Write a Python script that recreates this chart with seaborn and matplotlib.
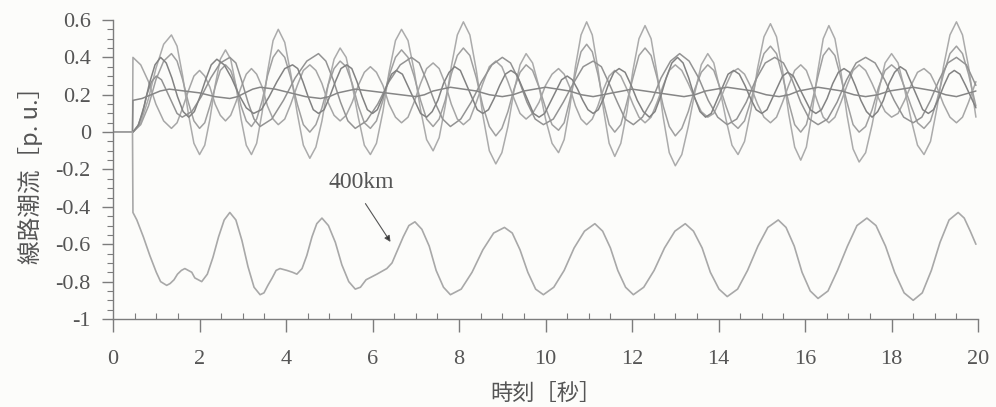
import matplotlib
matplotlib.use("Agg")
import matplotlib.pyplot as plt
import seaborn as sns
from matplotlib.ticker import MultipleLocator

# ---------------- data ----------------
# 400 km line flow
t_400km = [0.0, 0.45, 0.46, 0.55, 0.7, 0.85, 1.0, 1.1, 1.24,
           1.32, 1.41, 1.49, 1.58, 1.66,
           1.74, 1.82, 1.89, 1.97, 2.05,
           2.18, 2.31, 2.44, 2.57, 2.7,
           2.84, 2.98, 3.12, 3.26, 3.4,
           3.49, 3.58, 3.68, 3.77, 3.86,
           4.02, 4.15, 4.25,
           4.37, 4.48, 4.6, 4.71, 4.83,
           4.98, 5.14, 5.29, 5.45, 5.6,
           5.72, 5.85, 6.1, 6.33,
           6.45, 6.58, 6.71, 6.84, 6.98,
           7.14, 7.31, 7.47, 7.64, 7.8,
           8.05, 8.3, 8.55, 8.8, 9.05,
           9.23, 9.41, 9.59, 9.77, 9.95,
           10.19, 10.43, 10.66, 10.9, 11.14,
           11.32, 11.5, 11.67, 11.85, 12.03,
           12.27, 12.51, 12.75, 12.99, 13.23,
           13.42, 13.62, 13.81, 14.01, 14.2,
           14.44, 14.67, 14.91, 15.14, 15.38,
           15.56, 15.75, 15.93, 16.12, 16.3,
           16.53, 16.75, 16.98, 17.2, 17.43,
           17.64, 17.86, 18.07, 18.29, 18.5,
           18.71, 18.92, 19.12, 19.33, 19.54,
           19.68, 19.82, 19.95]
flow_400km = [0.0, 0.0, -0.43, -0.47, -0.56, -0.66, -0.75, -0.80, -0.82,
              -0.81, -0.79, -0.76, -0.74, -0.73,
              -0.74, -0.75, -0.78, -0.79, -0.80,
              -0.76, -0.67, -0.56, -0.47, -0.43,
              -0.47, -0.58, -0.72, -0.83, -0.87,
              -0.86, -0.82, -0.78, -0.74, -0.73,
              -0.74, -0.75, -0.76,
              -0.73, -0.66, -0.56, -0.49, -0.46,
              -0.50, -0.59, -0.71, -0.80, -0.84,
              -0.83, -0.79, -0.76, -0.73,
              -0.70, -0.63, -0.56, -0.50, -0.48,
              -0.52, -0.61, -0.74, -0.83, -0.87,
              -0.84, -0.75, -0.63, -0.54, -0.51,
              -0.54, -0.63, -0.75, -0.84, -0.87,
              -0.83, -0.74, -0.62, -0.53, -0.49,
              -0.53, -0.62, -0.74, -0.83, -0.87,
              -0.83, -0.74, -0.62, -0.53, -0.49,
              -0.53, -0.62, -0.75, -0.84, -0.88,
              -0.84, -0.74, -0.61, -0.51, -0.47,
              -0.51, -0.61, -0.75, -0.85, -0.89,
              -0.85, -0.74, -0.61, -0.50, -0.46,
              -0.50, -0.61, -0.75, -0.86, -0.90,
              -0.86, -0.74, -0.59, -0.47, -0.43,
              -0.46, -0.53, -0.60]

# fast-mode line flows (three lines sharing one time base)
t_fast = [0.0, 0.45, 0.46,
          0.64, 0.82, 0.99, 1.17, 1.35,
          1.48, 1.61, 1.74, 1.87, 2.0,
          2.12, 2.24, 2.36, 2.48, 2.6,
          2.72, 2.84, 2.96, 3.08, 3.2,
          3.32, 3.45, 3.57, 3.70, 3.82,
          3.97, 4.11, 4.26, 4.40, 4.55,
          4.69, 4.83, 4.97, 5.11, 5.25,
          5.39, 5.53, 5.67, 5.81, 5.95,
          6.09, 6.24, 6.38, 6.53, 6.67,
          6.82, 6.96, 7.11, 7.25, 7.4,
          7.54, 7.68, 7.82, 7.96, 8.1,
          8.25, 8.4, 8.55, 8.7, 8.85,
          8.99, 9.13, 9.27, 9.41, 9.55,
          9.7, 9.85, 10.0, 10.15, 10.3,
          10.43, 10.56, 10.69, 10.82, 10.95,
          11.08, 11.21, 11.34, 11.47, 11.6,
          11.74, 11.88, 12.02, 12.16, 12.3,
          12.44, 12.58, 12.72, 12.86, 13.0,
          13.15, 13.3, 13.45, 13.6, 13.75,
          13.89, 14.03, 14.17, 14.31, 14.45,
          14.6, 14.75, 14.9, 15.05, 15.2,
          15.34, 15.48, 15.62, 15.76, 15.9,
          16.03, 16.16, 16.29, 16.42, 16.55,
          16.69, 16.83, 16.97, 17.11, 17.25,
          17.4, 17.55, 17.7, 17.85, 18.0,
          18.15, 18.3, 18.45, 18.6, 18.75,
          18.9, 19.05, 19.2, 19.35, 19.5,
          19.64, 19.78, 19.95]
flow_a = [0.0, 0.0, 0.0,
          0.05, 0.18, 0.34, 0.47, 0.52,
          0.46, 0.30, 0.10, -0.06, -0.12,
          -0.07, 0.07, 0.25, 0.39, 0.44,
          0.39, 0.25, 0.07, -0.07, -0.12,
          -0.06, 0.11, 0.32, 0.49, 0.55,
          0.48, 0.31, 0.10, -0.07, -0.14,
          -0.08, 0.06, 0.25, 0.39, 0.45,
          0.40, 0.25, 0.08, -0.07, -0.12,
          -0.06, 0.11, 0.32, 0.49, 0.55,
          0.49, 0.33, 0.12, -0.04, -0.10,
          -0.03, 0.14, 0.35, 0.52, 0.59,
          0.52, 0.33, 0.09, -0.10, -0.17,
          -0.11, 0.03, 0.22, 0.36, 0.42,
          0.37, 0.24, 0.07, -0.06, -0.11,
          -0.04, 0.13, 0.35, 0.52, 0.59,
          0.52, 0.34, 0.12, -0.06, -0.13,
          -0.06, 0.11, 0.33, 0.50, 0.57,
          0.50, 0.31, 0.08, -0.11, -0.18,
          -0.12, 0.03, 0.21, 0.36, 0.42,
          0.37, 0.23, 0.07, -0.07, -0.12,
          -0.05, 0.12, 0.34, 0.51, 0.58,
          0.51, 0.33, 0.10, -0.08, -0.15,
          -0.08, 0.10, 0.32, 0.50, 0.57,
          0.50, 0.32, 0.09, -0.09, -0.16,
          -0.11, 0.04, 0.22, 0.37, 0.42,
          0.37, 0.23, 0.07, -0.07, -0.12,
          -0.05, 0.13, 0.35, 0.52, 0.59,
          0.52, 0.35, 0.08]
flow_b = [0.0, 0.0, 0.0,
          0.04, 0.14, 0.28, 0.38, 0.42,
          0.38, 0.28, 0.16, 0.06, 0.02,
          0.05, 0.14, 0.24, 0.33, 0.36,
          0.33, 0.25, 0.14, 0.06, 0.03,
          0.07, 0.17, 0.30, 0.40, 0.44,
          0.40, 0.29, 0.15, 0.04, 0.0,
          0.04, 0.13, 0.25, 0.34, 0.38,
          0.35, 0.26, 0.14, 0.05, 0.02,
          0.06, 0.17, 0.30, 0.40, 0.44,
          0.40, 0.30, 0.17, 0.07, 0.03,
          0.07, 0.17, 0.31, 0.41, 0.45,
          0.41, 0.29, 0.14, 0.03, -0.02,
          0.02, 0.11, 0.23, 0.32, 0.36,
          0.33, 0.24, 0.13, 0.04, 0.01,
          0.05, 0.17, 0.31, 0.43, 0.47,
          0.43, 0.31, 0.16, 0.04, 0.0,
          0.04, 0.16, 0.29, 0.41, 0.45,
          0.41, 0.29, 0.14, 0.03, -0.02,
          0.02, 0.11, 0.23, 0.32, 0.36,
          0.33, 0.24, 0.14, 0.05, 0.02,
          0.06, 0.17, 0.31, 0.42, 0.46,
          0.42, 0.30, 0.16, 0.04, 0.0,
          0.04, 0.16, 0.29, 0.41, 0.45,
          0.41, 0.29, 0.16, 0.04, 0.0,
          0.03, 0.12, 0.24, 0.33, 0.36,
          0.33, 0.24, 0.14, 0.05, 0.02,
          0.06, 0.17, 0.31, 0.42, 0.46,
          0.42, 0.31, 0.14]
flow_c = [0.0, 0.0, 0.40,
          0.36, 0.27, 0.15, 0.06, 0.02,
          0.05, 0.13, 0.22, 0.30, 0.33,
          0.30, 0.24, 0.15, 0.09, 0.06,
          0.09, 0.16, 0.24, 0.31, 0.34,
          0.31, 0.24, 0.14, 0.07, 0.04,
          0.07, 0.15, 0.25, 0.33, 0.36,
          0.33, 0.26, 0.16, 0.09, 0.06,
          0.09, 0.16, 0.25, 0.32, 0.35,
          0.32, 0.25, 0.15, 0.08, 0.05,
          0.08, 0.16, 0.26, 0.34, 0.37,
          0.34, 0.26, 0.15, 0.07, 0.04,
          0.07, 0.16, 0.26, 0.35, 0.38,
          0.35, 0.27, 0.18, 0.10, 0.07,
          0.10, 0.16, 0.25, 0.31, 0.34,
          0.31, 0.24, 0.14, 0.07, 0.04,
          0.07, 0.14, 0.23, 0.30, 0.33,
          0.30, 0.23, 0.15, 0.08, 0.05,
          0.08, 0.16, 0.25, 0.33, 0.36,
          0.33, 0.26, 0.18, 0.11, 0.08,
          0.10, 0.17, 0.25, 0.32, 0.34,
          0.31, 0.24, 0.15, 0.08, 0.05,
          0.08, 0.16, 0.25, 0.33, 0.36,
          0.33, 0.25, 0.16, 0.08, 0.05,
          0.08, 0.16, 0.25, 0.33, 0.36,
          0.33, 0.26, 0.18, 0.11, 0.08,
          0.10, 0.17, 0.25, 0.32, 0.34,
          0.31, 0.24, 0.15, 0.08, 0.05,
          0.08, 0.16, 0.27]

# slow-mode line flow
t_slow = [0.0, 0.45, 0.46,
          0.57, 0.68, 0.78, 0.89, 1.0,
          1.12, 1.24, 1.36, 1.48, 1.6,
          1.82, 2.04, 2.26, 2.48, 2.7,
          2.84, 2.98, 3.12, 3.26, 3.4,
          3.67, 3.94, 4.21, 4.48, 4.75,
          4.92, 5.09, 5.26, 5.43, 5.6,
          5.86, 6.12, 6.38, 6.64, 6.9,
          7.08, 7.26, 7.44, 7.62, 7.8,
          8.04, 8.28, 8.52, 8.76, 9.0,
          9.19, 9.38, 9.57, 9.76, 9.95,
          10.18, 10.41, 10.64, 10.87, 11.1,
          11.29, 11.47, 11.66, 11.84, 12.03,
          12.24, 12.46, 12.67, 12.89, 13.1,
          13.32, 13.54, 13.76, 13.98, 14.2,
          14.42, 14.64, 14.86, 15.08, 15.3,
          15.5, 15.7, 15.9, 16.1, 16.3,
          16.52, 16.74, 16.96, 17.18, 17.4,
          17.62, 17.84, 18.06, 18.28, 18.5,
          18.7, 18.9, 19.1, 19.3, 19.5,
          19.73, 19.95]
flow_d = [0.0, 0.0, 0.0,
          0.03, 0.10, 0.20, 0.27, 0.30,
          0.28, 0.22, 0.16, 0.10, 0.08,
          0.11, 0.19, 0.29, 0.37, 0.40,
          0.37, 0.27, 0.16, 0.07, 0.03,
          0.07, 0.17, 0.29, 0.38, 0.42,
          0.38, 0.28, 0.16, 0.06, 0.02,
          0.06, 0.15, 0.27, 0.36, 0.40,
          0.37, 0.27, 0.16, 0.07, 0.03,
          0.07, 0.16, 0.27, 0.36, 0.40,
          0.37, 0.28, 0.16, 0.07, 0.04,
          0.07, 0.16, 0.26, 0.35, 0.38,
          0.35, 0.26, 0.16, 0.07, 0.04,
          0.08, 0.17, 0.29, 0.38, 0.42,
          0.38, 0.29, 0.17, 0.08, 0.04,
          0.07, 0.16, 0.28, 0.37, 0.40,
          0.37, 0.28, 0.16, 0.07, 0.04,
          0.07, 0.16, 0.28, 0.37, 0.40,
          0.37, 0.28, 0.17, 0.08, 0.05,
          0.08, 0.17, 0.28, 0.37, 0.40,
          0.36, 0.25]

# nearly flat line flow
t_flat = [0.0, 0.45, 0.46,
          0.67, 0.88, 1.09, 1.3,
          1.65, 2.0, 2.35, 2.7,
          2.88, 3.05, 3.23, 3.4,
          3.75, 4.1, 4.45, 4.8,
          5.0, 5.2, 5.4, 5.6,
          5.95, 6.3, 6.65, 7.0,
          7.2, 7.4, 7.6, 7.8,
          8.1, 8.4, 8.7, 9.0,
          9.25, 9.5, 9.75, 10.0,
          10.28, 10.55, 10.83, 11.1,
          11.33, 11.55, 11.78, 12.0,
          12.3, 12.6, 12.9, 13.2,
          13.45, 13.7, 13.95, 14.2,
          14.5, 14.8, 15.1, 15.4,
          15.63, 15.85, 16.08, 16.3,
          16.58, 16.85, 17.13, 17.4,
          17.68, 17.95, 18.23, 18.5,
          18.75, 19.0, 19.25, 19.5,
          19.95]
flow_e = [0.0, 0.0, 0.17,
          0.18, 0.20, 0.22, 0.23,
          0.22, 0.21, 0.19, 0.18,
          0.19, 0.21, 0.23, 0.24,
          0.23, 0.21, 0.19, 0.18,
          0.19, 0.21, 0.22, 0.23,
          0.22, 0.21, 0.20, 0.19,
          0.20, 0.22, 0.23, 0.24,
          0.23, 0.22, 0.20, 0.19,
          0.20, 0.22, 0.23, 0.24,
          0.23, 0.22, 0.20, 0.19,
          0.20, 0.21, 0.22, 0.23,
          0.22, 0.21, 0.20, 0.19,
          0.20, 0.22, 0.23, 0.24,
          0.23, 0.22, 0.20, 0.19,
          0.20, 0.22, 0.23, 0.24,
          0.23, 0.22, 0.20, 0.19,
          0.20, 0.22, 0.23, 0.24,
          0.23, 0.22, 0.20, 0.19,
          0.22]

# medium line flow (darker trace)
t_mid = [0.0, 0.45, 0.46,
         0.59, 0.72, 0.84, 0.97, 1.1,
         1.23, 1.36, 1.49, 1.62, 1.75,
         1.88, 2.01, 2.14, 2.27, 2.4,
         2.57, 2.74, 2.91, 3.08, 3.25,
         3.43, 3.61, 3.79, 3.97, 4.15,
         4.27, 4.39, 4.51, 4.63, 4.75,
         4.88, 5.01, 5.14, 5.27, 5.4,
         5.52, 5.64, 5.76, 5.88, 6.0,
         6.11, 6.22, 6.33, 6.44, 6.55,
         6.69, 6.83, 6.97, 7.11, 7.25,
         7.38, 7.51, 7.64, 7.77, 7.9,
         8.03, 8.16, 8.29, 8.42, 8.55,
         8.68, 8.81, 8.94, 9.07, 9.2,
         9.33, 9.46, 9.59, 9.72, 9.85,
         9.98, 10.11, 10.24, 10.37, 10.5,
         10.62, 10.74, 10.86, 10.98, 11.1,
         11.22, 11.34, 11.46, 11.58, 11.7,
         11.84, 11.98, 12.12, 12.26, 12.4,
         12.53, 12.66, 12.79, 12.92, 13.05,
         13.18, 13.31, 13.44, 13.57, 13.7,
         13.83, 13.96, 14.09, 14.22, 14.35,
         14.48, 14.61, 14.74, 14.87, 15.0,
         15.12, 15.24, 15.36, 15.48, 15.6,
         15.73, 15.86, 15.99, 16.12, 16.25,
         16.38, 16.51, 16.64, 16.77, 16.9,
         17.03, 17.16, 17.29, 17.42, 17.55,
         17.68, 17.81, 17.94, 18.07, 18.2,
         18.33, 18.46, 18.59, 18.72, 18.85,
         18.97, 19.09, 19.21, 19.33, 19.45,
         19.58, 19.71, 19.95]
flow_f = [0.0, 0.0, 0.0,
          0.04, 0.14, 0.26, 0.36, 0.40,
          0.37, 0.29, 0.19, 0.11, 0.08,
          0.11, 0.19, 0.28, 0.36, 0.39,
          0.36, 0.29, 0.20, 0.13, 0.10,
          0.12, 0.19, 0.27, 0.34, 0.36,
          0.34, 0.27, 0.19, 0.12, 0.10,
          0.12, 0.19, 0.27, 0.34, 0.36,
          0.34, 0.27, 0.19, 0.12, 0.10,
          0.12, 0.18, 0.25, 0.31, 0.33,
          0.31, 0.24, 0.17, 0.10, 0.08,
          0.11, 0.17, 0.26, 0.32, 0.35,
          0.33, 0.26, 0.19, 0.12, 0.10,
          0.12, 0.18, 0.25, 0.31, 0.33,
          0.31, 0.24, 0.17, 0.10, 0.08,
          0.10, 0.16, 0.22, 0.28, 0.30,
          0.28, 0.23, 0.17, 0.12, 0.10,
          0.12, 0.18, 0.26, 0.32, 0.34,
          0.32, 0.25, 0.17, 0.11, 0.08,
          0.11, 0.19, 0.29, 0.37, 0.40,
          0.37, 0.29, 0.19, 0.11, 0.08,
          0.10, 0.17, 0.24, 0.31, 0.33,
          0.31, 0.25, 0.18, 0.12, 0.10,
          0.12, 0.18, 0.24, 0.30, 0.32,
          0.30, 0.24, 0.18, 0.12, 0.10,
          0.12, 0.18, 0.26, 0.32, 0.34,
          0.32, 0.25, 0.17, 0.11, 0.08,
          0.11, 0.17, 0.26, 0.32, 0.35,
          0.33, 0.26, 0.19, 0.12, 0.10,
          0.12, 0.18, 0.25, 0.31, 0.33,
          0.31, 0.25, 0.13]

x_ticks = [0, 2, 4, 6, 8, 10, 12, 14, 16, 18, 20]
x_tick_labels = ["0", "2", "4", "6", "8", "10", "12", "14", "16", "18", "20"]
y_ticks = [-1.0, -0.8, -0.6, -0.4, -0.2, 0.0, 0.2, 0.4, 0.6]
y_tick_labels = ["-1", "-0.8", "-0.6", "-0.4", "-0.2", "0", "0.2", "0.4", "0.6"]
x_label = "時刻［秒］"
y_label = "線路潮流［p. u.］"
annot_label = "400km"

# ---------------- style ----------------
sns.set_theme(style="ticks")
plt.rcParams['font.family'] = ['Liberation Serif', 'Noto Sans CJK JP', 'DejaVu Sans']
cjk = ['Noto Sans CJK JP', 'DejaVu Sans']

bg = "#fcfcfa"
axis_col = "#7c7c7c"
text_col = "#555555"

fig = plt.figure(figsize=(9.96, 4.07), dpi=100, facecolor=bg)
ax = fig.add_axes([0.1135, 0.2162, 0.8685, 0.7347])
ax.set_facecolor(bg)

series = [
    (t_fast, flow_a, "#ababab", 1.1),
    (t_fast, flow_b, "#a0a0a0", 1.1),
    (t_fast, flow_c, "#a6a6a6", 1.1),
    (t_slow, flow_d, "#939393", 1.1),
    (t_mid, flow_f, "#828282", 1.1),
    (t_flat, flow_e, "#868686", 1.1),
    (t_400km, flow_400km, "#a8a8a8", 1.2),
]
for tx, vy, col, lw in series:
    sns.lineplot(x=tx, y=vy, ax=ax, color=col, linewidth=lw,
                 estimator=None, sort=False, legend=False)

ax.set_xlim(0, 20)
ax.set_ylim(-1, 0.6)
sns.despine(ax=ax)
for s in ("left", "bottom"):
    ax.spines[s].set_color(axis_col)
    ax.spines[s].set_linewidth(1.0)

ax.set_xticks(x_ticks)
ax.set_xticklabels(x_tick_labels)
ax.set_yticks(y_ticks)
ax.set_yticklabels(y_tick_labels)
ax.xaxis.set_minor_locator(MultipleLocator(0.5))
ax.yaxis.set_minor_locator(MultipleLocator(0.05))
ax.tick_params(axis="x", which="major", direction="out", length=9, width=1.0,
               color=axis_col, labelsize=16, labelcolor=text_col, pad=13)
ax.tick_params(axis="x", which="minor", direction="in", length=4, width=0.8,
               color=axis_col)
ax.tick_params(axis="y", which="major", direction="out", length=8, width=1.0,
               color=axis_col, labelsize=16, labelcolor=text_col, pad=8)
ax.tick_params(axis="y", which="minor", direction="out", length=4, width=0.8,
               color=axis_col)

ax.set_xlabel(x_label, family=cjk, fontsize=16, color=text_col, va="center")
ax.xaxis.set_label_coords(0.5, -0.25)
ax.set_ylabel(y_label, family=cjk, fontsize=17, color=text_col, va="center")
ax.yaxis.set_label_coords(-0.096, 0.5)

ax.text(5.75, -0.27, annot_label, fontsize=17, color=text_col,
        ha="center", va="center")
ax.annotate("", xy=(6.45, -0.60), xytext=(5.8, -0.37),
            arrowprops=dict(arrowstyle="-|>", color="#8a8a8a", lw=0.8,
                            mutation_scale=9, fc="#333333", ec="#555555"))

fig.savefig("out.png", dpi=100, facecolor=bg)
